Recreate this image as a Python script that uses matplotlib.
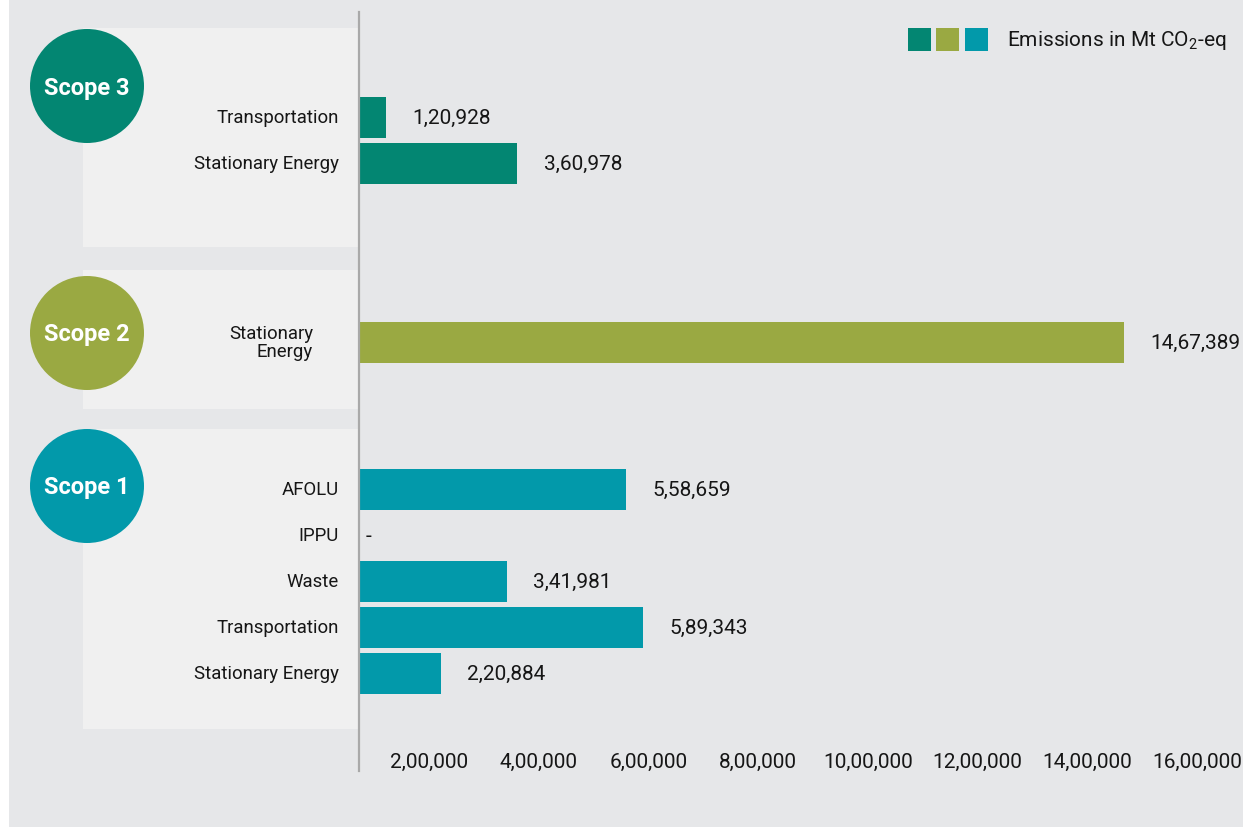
import matplotlib
matplotlib.use("Agg")
import matplotlib.pyplot as plt
from matplotlib.patches import Rectangle, Circle

plt.rcParams['font.family'] = ['Roboto', 'DejaVu Sans']
plt.rcParams['mathtext.fontset'] = 'custom'
plt.rcParams['mathtext.rm'] = 'Roboto'

# data
scope_names = ['Scope 3', 'Scope 2', 'Scope 1']
scope3_cats = ['Transportation', 'Stationary Energy']
scope3_vals = [120928, 360978]
scope2_cats = ['Stationary\nEnergy']
scope2_vals = [1467389]
scope1_cats = ['AFOLU', 'IPPU', 'Waste', 'Transportation', 'Stationary Energy']
scope1_vals = [558659, None, 341981, 589343, 220884]
x_ticks = [200000, 400000, 600000, 800000, 1000000, 1200000, 1400000, 1600000]
legend_label = 'Emissions in Mt CO$_2$-eq'

colors = ['#038672', '#9aa942', '#0299aa']
bg_gray = '#e6e7e9'
panel_gray = '#f0f0f0'
text_col = '#161616'


def fmt_inr(n):
    """Indian style grouping: 14,67,389"""
    s = str(int(n))
    if len(s) <= 3:
        return s
    last3, rest = s[-3:], s[:-3]
    groups = []
    while len(rest) > 2:
        groups.insert(0, rest[-2:])
        rest = rest[:-2]
    if rest:
        groups.insert(0, rest)
    return ','.join(groups) + ',' + last3


W, H = 1243, 828
fig = plt.figure(figsize=(W / 100, H / 100), dpi=100)
fig.patch.set_facecolor('white')

# background axes in pixel coords (y downwards)
bg = fig.add_axes([0, 0, 1, 1])
bg.set_xlim(0, W)
bg.set_ylim(H, 0)
bg.axis('off')
bg.add_patch(Rectangle((9, 0), W - 9, H, color=bg_gray, lw=0))

panels = [(29, 248), (271, 410), (430, 730)]
circle_y = [87, 334, 487]
groups = [(scope3_cats, scope3_vals), (scope2_cats, scope2_vals), (scope1_cats, scope1_vals)]

for (top, bottom), cy, name, col in zip(panels, circle_y, scope_names, colors):
    bg.add_patch(Rectangle((83, top), 358 - 83, bottom - top, color=panel_gray, lw=0))
    bg.add_patch(Circle((87, cy), 57, color=col, lw=0))
    bg.text(87, cy + 1, name, color='white', fontsize=17, fontweight='bold',
            ha='center', va='center')

# legend squares
for i, col in enumerate(colors):
    bg.add_patch(Rectangle((908 + i * 28.5, 29), 23, 23, color=col, lw=0))
bg.text(1007, 41, legend_label, fontsize=15, color=text_col, va='center', ha='left')

# bar axes: x in data units, y in pixel rows so bars sit inside the panels
ax_left, ax_right, ax_top, ax_bottom = 359, 1197, 13, 772
ax = fig.add_axes([ax_left / W, (H - ax_bottom) / H, (ax_right - ax_left) / W, (ax_bottom - ax_top) / H])
ax.set_facecolor('none')
ax.set_xlim(72000, 1600000)
ax.set_ylim(ax_bottom, ax_top)

pitch, bar_h = 46, 41
for (cats, vals), (top, bottom), col in zip(groups, panels, colors):
    center = (top + bottom) / 2 + 2.5
    n = len(cats)
    ys = [center + (i - (n - 1) / 2) * pitch for i in range(n)]
    widths = [v if v else 0 for v in vals]
    ax.barh(ys, widths, height=bar_h, color=col, left=0)
    for y, c, v in zip(ys, cats, vals):
        if '\n' in c:
            bg.text(313, y, c, fontsize=13.4, ha='right', va='center', color=text_col,
                    linespacing=0.95, multialignment='right')
        else:
            bg.text(339, y, c, fontsize=13.4, ha='right', va='center', color=text_col)
        if v:
            ax.annotate(fmt_inr(v), xy=(v, y), xytext=(19, 0), textcoords='offset points',
                        fontsize=15, va='center', ha='left', color=text_col)
        else:
            ax.annotate('-', xy=(ax.get_xlim()[0], y), xytext=(5, 0), textcoords='offset points',
                        fontsize=15, va='center', ha='left', color=text_col)

ax.set_xticks(x_ticks)
ax.set_xticklabels([fmt_inr(t) for t in x_ticks], fontsize=15, color=text_col)
ax.tick_params(axis='x', length=0, pad=-14)
ax.set_yticks([])
for s in ['top', 'right', 'bottom']:
    ax.spines[s].set_visible(False)
ax.spines['left'].set_color('#a9a9a9')
ax.spines['left'].set_linewidth(1.6)

plt.savefig('out.png', dpi=100, facecolor=fig.get_facecolor())
plt.close()
